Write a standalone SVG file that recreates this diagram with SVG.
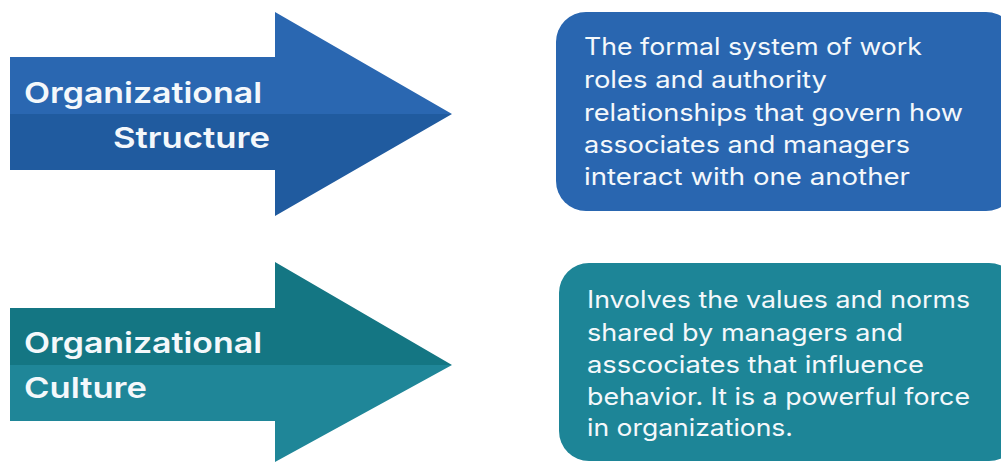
<svg xmlns="http://www.w3.org/2000/svg" width="1001" height="463" viewBox="0 0 1001 463">
<style>
.t{font-family:Inter,"Noto Sans","DejaVu Sans",sans-serif;fill:#f4f8fb}
.h{font-size:29px;font-weight:600}
.b{font-size:24px;font-weight:400}
</style>
<rect width="1001" height="463" fill="#ffffff"/>
<g id="arrow-structure">
<polygon points="10,57 275,57 275,12 452,114 10,114" fill="#2a67b1"/>
<polygon points="10,114 452,114 275,216 275,170 10,170" fill="#205b9f"/>
<text class="t h" x="24" y="103" textLength="238" lengthAdjust="spacingAndGlyphs">Organizational</text>
<text class="t h" x="113" y="148" textLength="157" lengthAdjust="spacingAndGlyphs">Structure</text>
</g>
<g id="arrow-culture">
<polygon points="10,308 275,308 275,262 452,365 10,365" fill="#147683"/>
<polygon points="10,365 452,365 275,462 275,421 10,421" fill="#1f8698"/>
<text class="t h" x="24" y="353" textLength="238" lengthAdjust="spacingAndGlyphs">Organizational</text>
<text class="t h" x="24" y="398" textLength="123" lengthAdjust="spacingAndGlyphs">Culture</text>
</g>
<g id="box-structure">
<rect x="556" y="12" width="460" height="199" rx="30" fill="#2966b0"/>
<text class="t b" x="584" y="55" textLength="338" lengthAdjust="spacingAndGlyphs">The formal system of work</text>
<text class="t b" x="584" y="88" textLength="243" lengthAdjust="spacingAndGlyphs">roles and authority</text>
<text class="t b" x="584" y="121" textLength="379" lengthAdjust="spacingAndGlyphs">relationships that govern how</text>
<text class="t b" x="584" y="153" textLength="326" lengthAdjust="spacingAndGlyphs">associates and managers</text>
<text class="t b" x="584" y="185" textLength="326" lengthAdjust="spacingAndGlyphs">interact with one another</text>
</g>
<g id="box-culture">
<rect x="559" y="263" width="460" height="198" rx="30" fill="#1d8597"/>
<text class="t b" x="587" y="308" textLength="383" lengthAdjust="spacingAndGlyphs">Involves the values and norms</text>
<text class="t b" x="587" y="341" textLength="316" lengthAdjust="spacingAndGlyphs">shared by managers and</text>
<text class="t b" x="587" y="373" textLength="337" lengthAdjust="spacingAndGlyphs">asscociates that influence</text>
<text class="t b" x="587" y="405" textLength="383" lengthAdjust="spacingAndGlyphs">behavior. It is a powerful force</text>
<text class="t b" x="587" y="436" textLength="206" lengthAdjust="spacingAndGlyphs">in organizations.</text>
</g>
<g id="connectors"/>
</svg>
